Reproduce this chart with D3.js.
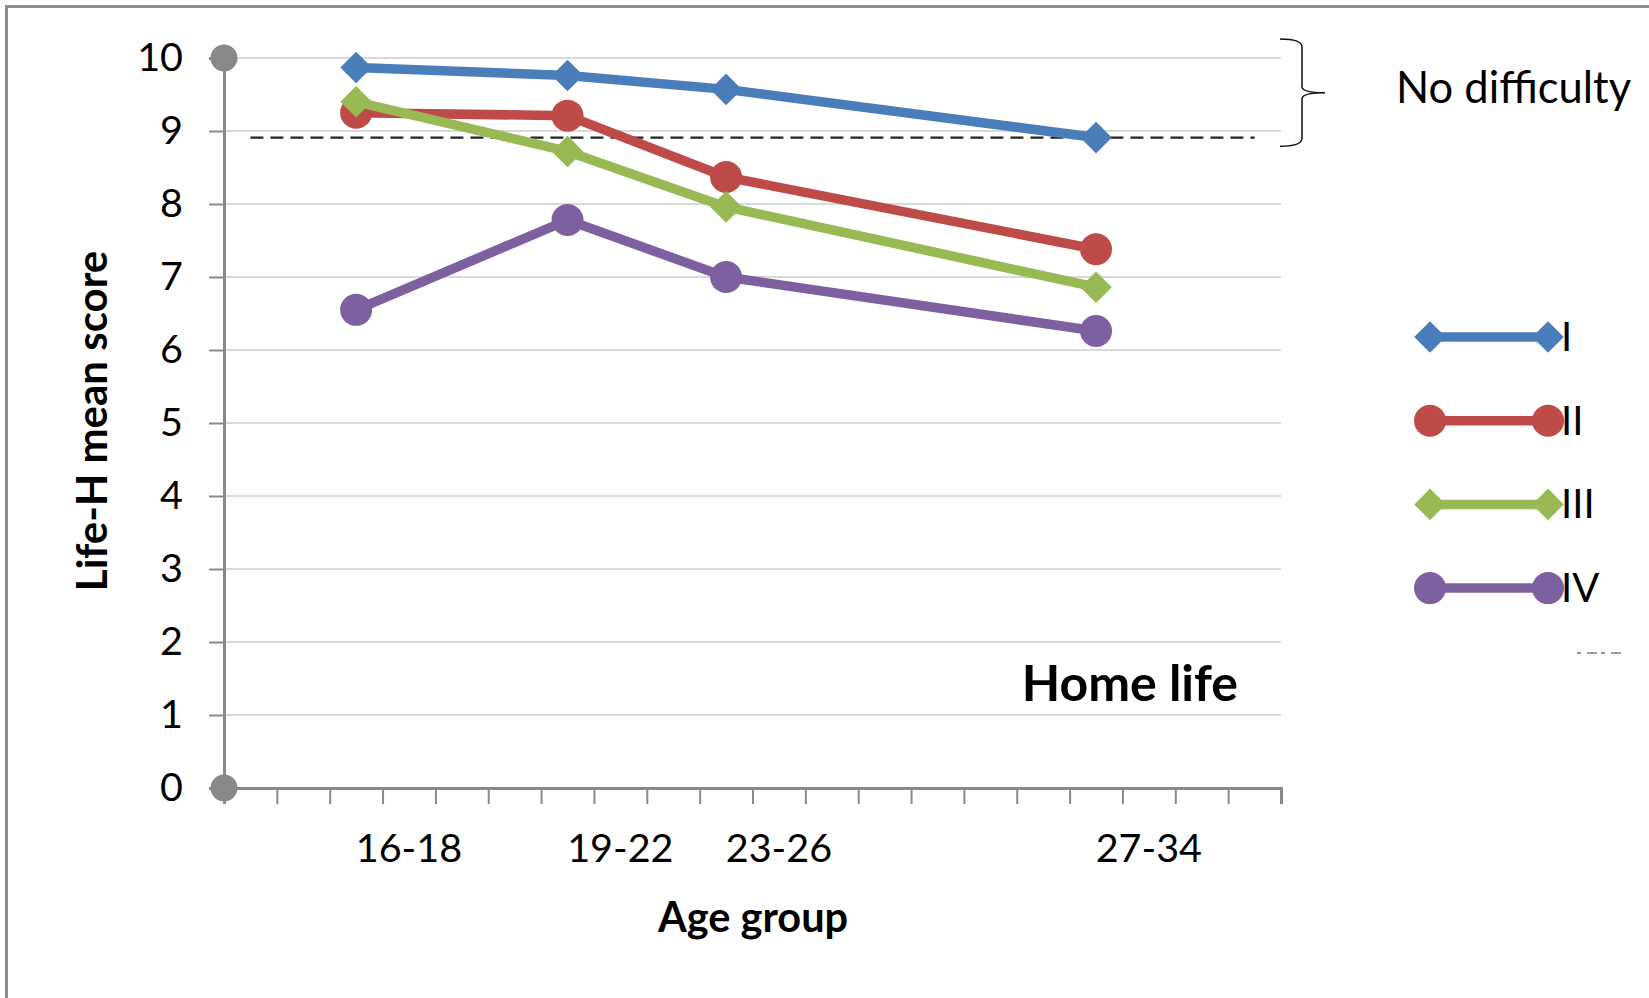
<!DOCTYPE html>
<html>
<head>
<meta charset="utf-8">
<script src="https://cdn.jsdelivr.net/npm/d3@7"></script>
<style>
  html, body { margin: 0; padding: 0; background: #fff; }
  svg { display: block; }
  text { font-family: Lato, "Open Sans", sans-serif; fill: #000; }
</style>
</head>
<body>
<svg id="chart" width="1649" height="998"></svg>
<script>
// ---- data ----
const categories = ["16-18", "19-22", "23-26", "27-34"];
const pointSlots = [2.5, 6.5, 9.5, 16.5];     // x slot of each point on the 20-slot axis
const labelSlots = [3.5, 7.5, 10.5, 17.5];    // x slot of each category label
const seriesNames = ["I", "II", "III", "IV"];
const seriesI   = [9.87, 9.76, 9.57, 8.91];
const seriesII  = [9.25, 9.21, 8.37, 7.38];
const seriesIII = [9.40, 8.72, 7.96, 6.86];
const seriesIV  = [6.55, 7.78, 7.00, 6.26];
const yTicks = [0, 1, 2, 3, 4, 5, 6, 7, 8, 9, 10];
const slotCount = 20;
const thresholdValue = 8.91;
const thresholdSlots = [0.5, 19.5];
const panelTitle = "Home life";
const bracketLabel = "No difficulty";
const xTitle = "Age group";
const yTitle = "Life-H mean score";

const colors = ["#4A7EBB", "#BE4B48", "#98B954", "#7D60A0"];
const shapes = ["diamond", "circle", "diamond", "circle"];
const seriesValues = [seriesI, seriesII, seriesIII, seriesIV];

// ---- layout ----
const svg = d3.select("#chart");
const x = d3.scaleLinear().domain([0, slotCount]).range([224, 1281]);
const y = d3.scaleLinear().domain([0, 10]).range([788, 58]);
const axisGray = "#898989";

// outer frame (top & left visible)
svg.append("rect").attr("x", 6.5).attr("y", 6.5).attr("width", 1800).attr("height", 1200)
  .attr("fill", "none").attr("stroke", "#8c8c8c").attr("stroke-width", 3);

// gridlines
svg.append("g").selectAll("line").data(yTicks.filter(d => d > 0)).join("line")
  .attr("x1", x(0)).attr("x2", x(slotCount))
  .attr("y1", d => y(d)).attr("y2", d => y(d))
  .attr("stroke", "#d9d9d9").attr("stroke-width", 2);

// x axis
const xAxis = d3.axisBottom(x).tickValues(d3.range(1, slotCount + 1)).tickSize(16).tickFormat("");
const gx = svg.append("g").attr("transform", `translate(0,${y(0)})`).call(xAxis);
gx.select(".domain").attr("stroke", axisGray).attr("stroke-width", 3);
gx.selectAll(".tick line").attr("stroke", axisGray).attr("stroke-width", 2);

// x labels
svg.append("g").selectAll("text").data(categories).join("text")
  .attr("x", (d, i) => x(labelSlots[i])).attr("y", 862)
  .attr("text-anchor", "middle").style("font-size", "39.5px").text(d => d);

// y axis
const yAxis = d3.axisLeft(y).tickValues(yTicks).tickSize(15).tickPadding(26).tickFormat(d3.format("d"));
const gy = svg.append("g").attr("transform", `translate(${x(0)},0)`).call(yAxis);
gy.select(".domain").attr("stroke", axisGray).attr("stroke-width", 3);
gy.selectAll(".tick line").attr("stroke", axisGray).attr("stroke-width", 2);
gy.selectAll(".tick text").style("font-size", "39.5px").style("font-family", "Lato, sans-serif").attr("fill", "#000");
// end caps
svg.append("g").selectAll("circle").data([0, 10]).join("circle")
  .attr("cx", x(0)).attr("cy", d => y(d)).attr("r", 13.5).attr("fill", axisGray);

// threshold dashed line
svg.append("line")
  .attr("x1", x(thresholdSlots[0])).attr("x2", x(thresholdSlots[1]))
  .attr("y1", y(thresholdValue)).attr("y2", y(thresholdValue))
  .attr("stroke", "#222").attr("stroke-width", 2.2).attr("stroke-dasharray", "13,7");

// series
const line = d3.line().x((d, i) => x(pointSlots[i])).y(d => y(d));
const diamond = d3.symbol().type(d3.symbolSquare).size(500);
function drawMarker(g, shape, color, cx, cy) {
  if (shape === "circle") {
    g.append("circle").attr("cx", cx).attr("cy", cy).attr("r", 16).attr("fill", color);
  } else {
    g.append("path").attr("d", diamond()).attr("fill", color)
      .attr("transform", `translate(${cx},${cy}) rotate(45)`);
  }
}
seriesValues.forEach((vals, s) => {
  const g = svg.append("g");
  g.append("path").datum(vals).attr("d", line).attr("fill", "none")
    .attr("stroke", colors[s]).attr("stroke-width", 9.5).attr("stroke-linejoin", "round");
  vals.forEach((v, i) => drawMarker(g, shapes[s], colors[s], x(pointSlots[i]), y(v)));
});

// panel title
svg.append("text").attr("x", 1238).attr("y", 701).attr("text-anchor", "end")
  .style("font-size", "50px").style("font-weight", "bold").text(panelTitle);

// axis titles
svg.append("text").attr("x", 753).attr("y", 932).attr("text-anchor", "middle")
  .style("font-size", "41.5px").style("font-weight", "bold").text(xTitle);
svg.append("text").attr("transform", "translate(107,421) rotate(-90)").attr("text-anchor", "middle")
  .style("font-size", "42px").style("font-weight", "bold").text(yTitle);

// bracket annotation
const bx0 = 1280, bx1 = 1302, bx2 = 1325;
const bTop = y(10.26), bBot = y(8.79), bMid = (bTop + bBot) / 2;
svg.append("path")
  .attr("d", `M${bx0},${bTop} Q${bx1},${bTop} ${bx1},${bTop + 8} L${bx1},${bMid - 6} Q${bx1},${bMid} ${bx2},${bMid}`
    + ` Q${bx1},${bMid} ${bx1},${bMid + 6} L${bx1},${bBot - 8} Q${bx1},${bBot} ${bx0},${bBot}`)
  .attr("fill", "none").attr("stroke", "#111").attr("stroke-width", 1.5);
svg.append("text").attr("x", 1396).attr("y", 103).style("font-size", "43.5px").text(bracketLabel);

// legend
const legend = svg.append("g");
seriesNames.forEach((name, s) => {
  const ly = 337 + s * 83.7;
  legend.append("line").attr("x1", 1430).attr("x2", 1548).attr("y1", ly).attr("y2", ly)
    .attr("stroke", colors[s]).attr("stroke-width", 9.5);
  drawMarker(legend, shapes[s], colors[s], 1430, ly);
  drawMarker(legend, shapes[s], colors[s], 1548, ly);
  legend.append("text").attr("x", 1561).attr("y", ly + 14).style("font-size", "40px").text(name);
});
// small clipped remnant under legend
svg.append("line").attr("x1", 1577).attr("x2", 1623).attr("y1", 653).attr("y2", 653)
  .attr("stroke", "#9a9a9a").attr("stroke-width", 2).attr("stroke-dasharray", "4,6,10,4");
</script>
</body>
</html>
